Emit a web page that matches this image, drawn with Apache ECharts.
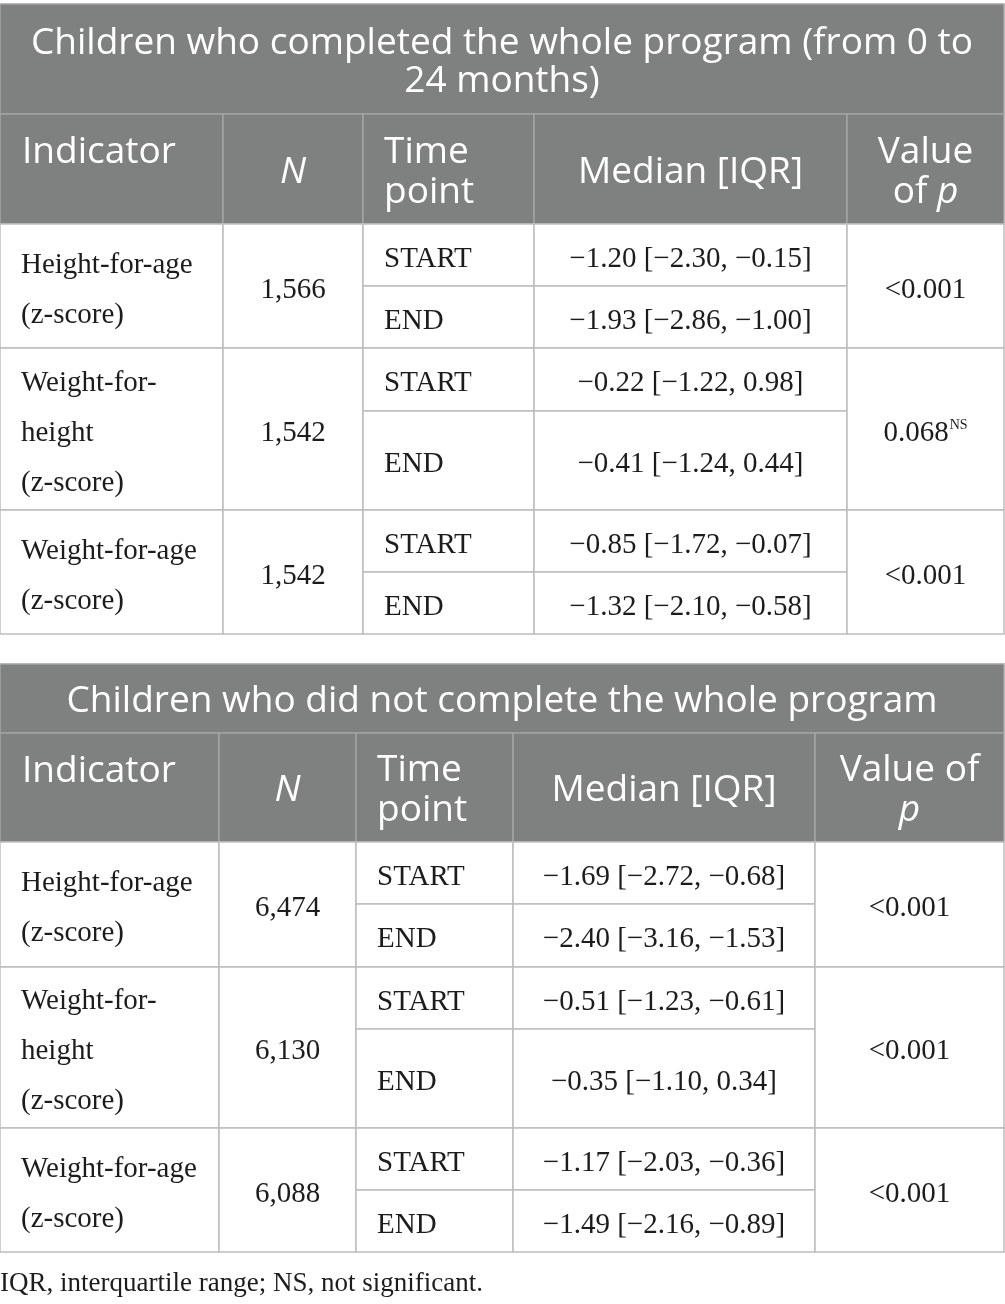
<!DOCTYPE html>
<html>
<head>
<meta charset="utf-8">
<script src="https://cdn.jsdelivr.net/npm/echarts@6/dist/echarts.min.js"></script>
<style>
  html, body { margin: 0; padding: 0; background: #fff; }
  #main { width: 1005px; height: 1304px; }
</style>
</head>
<body>
<div id="main"></div>
<script>
// ---- table content ----
var tableTitles = ['Children who completed the whole program (from 0 to\n24 months)', 'Children who did not complete the whole program'];
var headIndicator = 'Indicator';
var headN = '{i|N}';
var headTime = 'Time\npoint';
var headMedian = 'Median [IQR]';
var headP = ['Value\nof {i|p}', 'Value of\n{i|p}'];
var indicators = ['Height-for-age\n(z-score)', 'Weight-for-\nheight\n(z-score)', 'Weight-for-age\n(z-score)'];
var timePoints = ['START', 'END'];

var nCompleted = ['1,566', '1,542', '1,542'];
var medianCompleted = [
	['\u22121.20 [\u22122.30, \u22120.15]', '\u22121.93 [\u22122.86, \u22121.00]'],
	['\u22120.22 [\u22121.22, 0.98]', '\u22120.41 [\u22121.24, 0.44]'],
	['\u22120.85 [\u22121.72, \u22120.07]', '\u22121.32 [\u22122.10, \u22120.58]']
];
var pCompleted = ['<0.001', '0.068', '<0.001'];
var noteCompleted = ['', 'NS', ''];

var nPartial = ['6,474', '6,130', '6,088'];
var medianPartial = [
	['\u22121.69 [\u22122.72, \u22120.68]', '\u22122.40 [\u22123.16, \u22121.53]'],
	['\u22120.51 [\u22121.23, \u22120.61]', '\u22120.35 [\u22121.10, 0.34]'],
	['\u22121.17 [\u22122.03, \u22120.36]', '\u22121.49 [\u22122.16, \u22120.89]']
];
var pPartial = ['<0.001', '<0.001', '<0.001'];
var notePartial = ['', '', ''];

var footnote = 'IQR, interquartile range; NS, not significant.';

// ---- layout (pixels of the 1005x1304 page) ----
var layouts = [
	{cols: [0, 223, 363, 534, 847, 1004], title: [4, 114], head: [114, 224],
		rows: [[224, 286, 348], [348, 411, 510], [510, 572, 634]], titleLh: 38},
	{cols: [0, 219, 356, 513, 815, 1004], title: [664, 733], head: [733, 842],
		rows: [[842, 904, 967], [967, 1029, 1128], [1128, 1190, 1252]], titleLh: 38}
];

var GRAY = '#7f8080',
	HEAD_LINE = '#a3a3a3',
	BODY_LINE = '#bdbdbd',
	TEXT = '#1c1c1c',
	SANS = '"Open Sans", "Noto Sans", sans-serif',
	SERIF = '"Liberation Serif", "DejaVu Serif", serif',
	HEAD_SIZE = 37,
	BODY_SIZE = 29;

var richSans = {
	i: {fontFamily: SANS, fontSize: HEAD_SIZE, fontStyle: 'italic', color: '#fff', lineHeight: 40}
};
var richSerif = {
	s: {fontFamily: SERIF, fontSize: 14, color: TEXT, padding: [0, 0, 15, 1]}
};

var cells = [];

function headCell(x0, y0, x1, y1, text, opts) {
	cells.push({
		v: [x0, y0, x1, y1], fill: GRAY, stroke: HEAD_LINE, text: text, color: '#fff',
		family: SANS, size: HEAD_SIZE, lh: opts.lh || 40, align: opts.align || 'center',
		valign: opts.valign || 'middle', pad: opts.pad || 0, padTop: opts.padTop || 0,
		dy: 3, rich: richSans
	});
}

function bodyCell(x0, y0, x1, y1, text, opts) {
	cells.push({
		v: [x0, y0, x1, y1], fill: '#fff', stroke: BODY_LINE, text: text, color: TEXT,
		family: SERIF, size: BODY_SIZE, lh: opts.lh || 34, align: opts.align || 'center',
		valign: 'middle', pad: opts.pad || 0, dy: 4, rich: richSerif
	});
}

function buildTable(k, nArr, medArr, pArr, noteArr) {
	var L = layouts[k], c = L.cols;
	headCell(c[0], L.title[0], c[5], L.title[1], tableTitles[k], {lh: L.titleLh});
	headCell(c[0], L.head[0], c[1], L.head[1], headIndicator, {align: 'left', pad: 22, valign: 'top', padTop: 15});
	headCell(c[1], L.head[0], c[2], L.head[1], headN, {});
	headCell(c[2], L.head[0], c[3], L.head[1], headTime, {align: 'left', pad: 21});
	headCell(c[3], L.head[0], c[4], L.head[1], headMedian, {});
	headCell(c[4], L.head[0], c[5], L.head[1], headP[k], {});
	for (var r = 0; r < indicators.length; r++) {
		var rr = L.rows[r];
		bodyCell(c[0], rr[0], c[1], rr[2], indicators[r], {align: 'left', pad: 21, lh: 50});
		bodyCell(c[1], rr[0], c[2], rr[2], nArr[r], {});
		for (var t = 0; t < timePoints.length; t++) {
			bodyCell(c[2], rr[t], c[3], rr[t + 1], timePoints[t], {align: 'left', pad: 21});
			bodyCell(c[3], rr[t], c[4], rr[t + 1], medArr[r][t], {});
		}
		var pText = pArr[r] + (noteArr[r] ? '{s|' + noteArr[r] + '}' : '');
		bodyCell(c[4], rr[0], c[5], rr[2], pText, {});
	}
}

buildTable(0, nCompleted, medianCompleted, pCompleted, noteCompleted);
buildTable(1, nPartial, medianPartial, pPartial, notePartial);

cells.push({
	v: [0, 1266, 1005, 1298], text: footnote, color: TEXT, family: SERIF, size: 27, lh: 30,
	align: 'left', valign: 'middle', pad: 0, dy: 2, rich: richSerif
});

var chart = echarts.init(document.getElementById('main'), null, {renderer: 'canvas'});

var option = {
	animation: false,
	backgroundColor: '#fff',
	grid: {left: 0, right: 0, top: 0, bottom: 0},
	xAxis: {type: 'value', min: 0, max: 1005, show: false},
	yAxis: {type: 'value', min: 0, max: 1304, inverse: true, show: false},
	series: [{
		type: 'custom',
		coordinateSystem: 'cartesian2d',
		encode: {x: [0, 2], y: [1, 3]},
		data: cells.map(function (c) { return c.v; }),
		renderItem: function (params, api) {
			var c = cells[params.dataIndex];
			var p0 = api.coord([api.value(0), api.value(1)]);
			var p1 = api.coord([api.value(2), api.value(3)]);
			var children = [];
			if (c.fill) {
				children.push({
					type: 'rect',
					shape: {x: p0[0], y: p0[1], width: p1[0] - p0[0], height: p1[1] - p0[1]},
					style: {fill: c.fill, stroke: c.stroke, lineWidth: 1.5}
				});
			}
			var tx = c.align === 'left' ? p0[0] + c.pad : (p0[0] + p1[0]) / 2;
			var ty = (c.valign === 'top' ? p0[1] + c.padTop : (p0[1] + p1[1]) / 2) + (c.dy || 0);
			children.push({
				type: 'text',
				style: {
					text: c.text, x: tx, y: ty,
					align: c.align, verticalAlign: c.valign,
					fill: c.color, fontFamily: c.family, fontSize: c.size, lineHeight: c.lh,
					rich: c.rich
				}
			});
			return {type: 'group', children: children};
		}
	}]
};

chart.setOption(option);
</script>
</body>
</html>
